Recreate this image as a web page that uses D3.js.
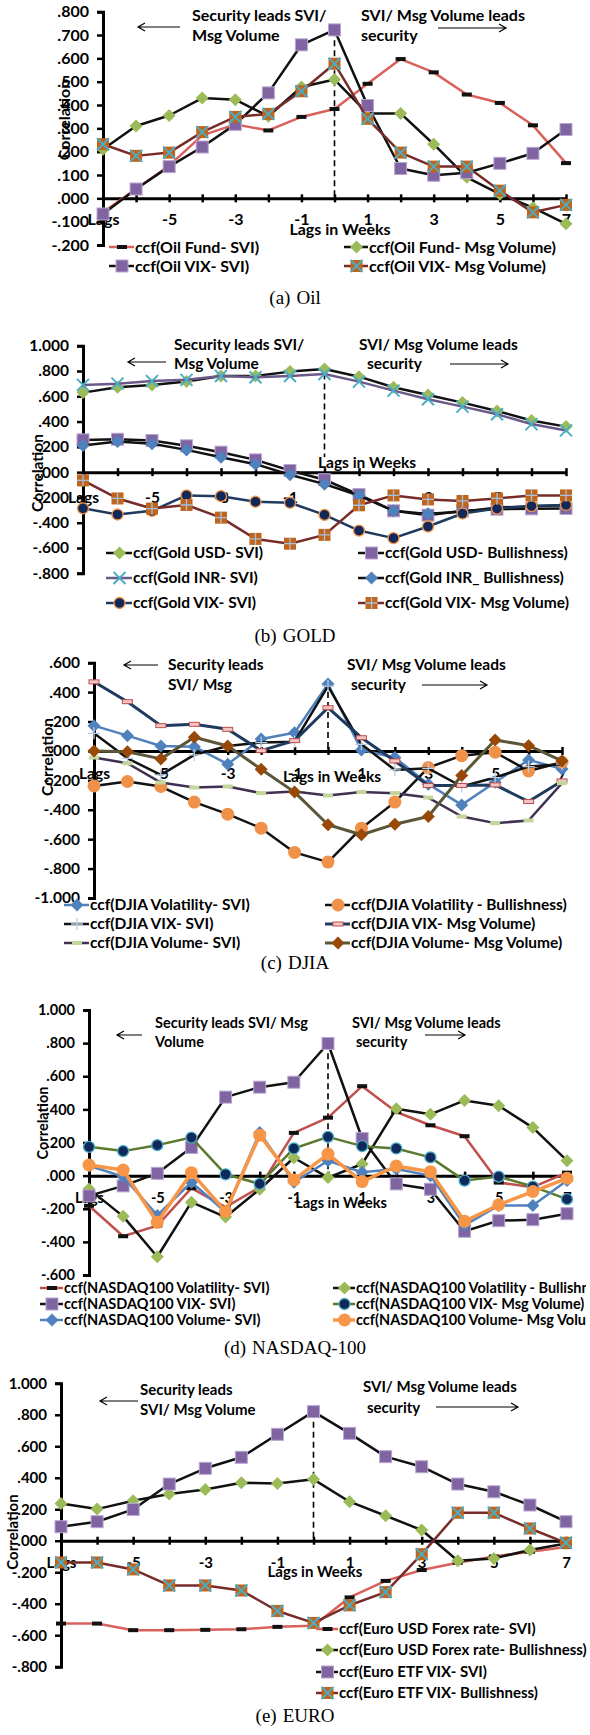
<!DOCTYPE html>
<html>
<head>
<meta charset="utf-8">
<script src="https://cdn.jsdelivr.net/npm/d3@7"></script>
<style>
body { margin: 0; background: #fff; }
svg text { font-family: Lato, "Open Sans", sans-serif; font-weight: bold; fill: #000; }
svg text.cap { font-family: "Liberation Serif", serif; font-weight: normal; }
</style>
</head>
<body>
<div id="chart"></div>
<script>
// lag categories and the labels Excel printed on the category axis
const lags = d3.range(-7, 8);
const lagLabels = ["Lags", "-5", "-3", "-1", "1", "3", "5", "7"];

// y tick values per panel
const ticksOil = [-0.2, -0.1, 0, 0.1, 0.2, 0.3, 0.4, 0.5, 0.6, 0.7, 0.8];
const ticksGold = [-0.8, -0.6, -0.4, -0.2, 0, 0.2, 0.4, 0.6, 0.8, 1.0];
const ticksDjia = [-1.0, -0.8, -0.6, -0.4, -0.2, 0, 0.2, 0.4, 0.6];
const ticksNasdaq = [-0.6, -0.4, -0.2, 0, 0.2, 0.4, 0.6, 0.8, 1.0];
const ticksEuro = [-0.8, -0.6, -0.4, -0.2, 0, 0.2, 0.4, 0.6, 0.8, 1.0];

// (a) Oil
const oilFundSvi = [-0.06, 0.04, 0.14, 0.27, 0.317, 0.291, 0.349, 0.383, 0.491, 0.597, 0.540, 0.445, 0.409, 0.313, 0.151];
const oilFundMsg = [0.21, 0.31, 0.355, 0.43, 0.423, 0.352, 0.477, 0.509, 0.364, 0.364, 0.232, 0.09, 0.018, -0.04, -0.109];
const oilVixSvi = [-0.067, 0.04, 0.136, 0.22, 0.317, 0.452, 0.658, 0.722, 0.398, 0.128, 0.099, 0.11, 0.15, 0.193, 0.295];
const oilVixMsg = [0.232, 0.182, 0.196, 0.284, 0.349, 0.362, 0.459, 0.577, 0.341, 0.196, 0.136, 0.136, 0.033, -0.06, -0.028];

// (b) Gold
const goldUsdSvi = [0.629, 0.671, 0.69, 0.716, 0.76, 0.76, 0.795, 0.816, 0.755, 0.671, 0.61, 0.55, 0.484, 0.408, 0.36];
const goldUsdBull = [0.255, 0.26, 0.25, 0.208, 0.158, 0.097, 0.013, -0.06, -0.177, -0.306, -0.34, -0.306, -0.293, -0.29, -0.287];
const goldInrSvi = [0.69, 0.70, 0.72, 0.73, 0.76, 0.75, 0.76, 0.776, 0.716, 0.645, 0.576, 0.518, 0.458, 0.38, 0.33];
const goldInrBull = [0.21, 0.242, 0.224, 0.176, 0.118, 0.063, -0.021, -0.095, -0.185, -0.306, -0.33, -0.314, -0.28, -0.27, -0.262];
const goldVixSvi = [-0.286, -0.335, -0.306, -0.184, -0.19, -0.234, -0.242, -0.338, -0.462, -0.522, -0.43, -0.327, -0.288, -0.268, -0.26];
const goldVixMsg = [-0.065, -0.208, -0.288, -0.26, -0.36, -0.528, -0.566, -0.496, -0.262, -0.184, -0.216, -0.228, -0.208, -0.184, -0.184];

// (c) DJIA
const djiaVolSvi = [0.172, 0.104, 0.034, 0.029, -0.09, 0.081, 0.124, 0.455, 0.007, -0.045, -0.226, -0.367, -0.213, -0.061, -0.122];
const djiaVolBull = [-0.238, -0.208, -0.242, -0.348, -0.43, -0.525, -0.69, -0.756, -0.525, -0.348, -0.113, -0.032, -0.009, -0.136, -0.077];
const djiaVixSvi = [0.12, -0.05, -0.163, -0.027, 0.034, 0.057, 0.063, 0.441, 0.045, -0.129, -0.118, -0.242, -0.181, -0.106, -0.09];
const djiaVixMsg = [0.47, 0.335, 0.172, 0.181, 0.147, 0.002, 0.07, 0.294, 0.09, -0.068, -0.235, -0.235, -0.231, -0.344, -0.204];
const djiaVolumeSvi = [-0.045, -0.084, -0.215, -0.249, -0.242, -0.287, -0.276, -0.303, -0.28, -0.287, -0.317, -0.446, -0.491, -0.473, -0.219];
const djiaVolumeMsg = [0.0, -0.005, -0.054, 0.093, 0.034, -0.124, -0.28, -0.502, -0.57, -0.498, -0.446, -0.167, 0.075, 0.036, -0.068];

// (d) NASDAQ-100
const nasVolSvi = [-0.182, -0.366, -0.302, -0.076, -0.19, -0.07, 0.258, 0.35, 0.54, 0.384, 0.304, 0.238, -0.042, -0.07, 0.018];
const nasVolBull = [-0.08, -0.246, -0.49, -0.16, -0.25, -0.082, 0.108, -0.012, 0.07, 0.404, 0.37, 0.454, 0.422, 0.29, 0.09];
const nasVixSvi = [-0.122, -0.062, 0.014, 0.17, 0.474, 0.534, 0.564, 0.798, 0.224, -0.05, -0.082, -0.336, -0.272, -0.266, -0.23];
const nasVixMsg = [0.174, 0.148, 0.184, 0.23, 0.008, -0.05, 0.164, 0.234, 0.178, 0.164, 0.11, -0.03, -0.006, -0.066, -0.142];
const nasVolumeSvi = [0.06, -0.006, -0.24, -0.04, -0.22, 0.26, -0.04, 0.09, 0.02, 0.04, 0.0, -0.3, -0.18, -0.18, -0.03];
const nasVolumeMsg = [0.064, 0.034, -0.282, 0.018, -0.216, 0.244, -0.026, 0.13, -0.036, 0.058, 0.024, -0.276, -0.176, -0.096, -0.016];

// (e) Euro
const euroUsdSvi = [-0.526, -0.526, -0.568, -0.568, -0.566, -0.562, -0.547, -0.54, -0.36, -0.255, -0.186, -0.14, -0.10, -0.07, -0.04];
const euroUsdBull = [0.237, 0.201, 0.254, 0.297, 0.326, 0.369, 0.364, 0.39, 0.248, 0.159, 0.068, -0.127, -0.112, -0.059, -0.017];
const euroVixSvi = [0.089, 0.121, 0.199, 0.36, 0.46, 0.53, 0.676, 0.82, 0.682, 0.534, 0.47, 0.36, 0.311, 0.227, 0.121];
const euroVixBull = [-0.138, -0.138, -0.182, -0.284, -0.284, -0.316, -0.446, -0.522, -0.41, -0.326, -0.085, 0.178, 0.178, 0.078, -0.013];

// series styles (Excel 2007 palette)
const S = {
  redDash:   { line: '#d9605b', w: 2.5, m: { type: 'dash', fill: '#111' } },
  redDash2:  { line: '#c0504d', w: 2.5, m: { type: 'dash', fill: '#111' } },
  greenDia:  { line: '#111', w: 2.5, m: { type: 'diamond', fill: '#9bbb59' } },
  purpleSq:  { line: '#111', w: 2.5, m: { type: 'square', fill: '#8064a2', stroke: '#b7a6cf' } },
  xSq:       { line: '#772c2a', w: 2.5, m: { type: 'xsq', fill: '#c0651b', x: '#4bacc6' } },
  plusSq:    { line: '#772c2a', w: 2.5, m: { type: 'psq', fill: '#c0651b', x: '#a5bfe0' } },
  cyanX:     { line: '#6a5a8a', w: 2.5, m: { type: 'x', x: '#4bacc6' } },
  blueDiaBk: { line: '#111', w: 2.5, m: { type: 'diamond', fill: '#4f81bd' } },
  navyOr:    { line: '#1f3a5f', w: 2.5, m: { type: 'circle', fill: '#10285a', stroke: '#f79646' } },
  blueDia:   { line: '#4f81bd', w: 2.5, m: { type: 'diamond', fill: '#4f81bd' } },
  orangeBk:  { line: '#111', w: 2.5, m: { type: 'circle', fill: '#f0914a', r: 6.5 } },
  plusBk:    { line: '#111', w: 2.5, m: { type: 'plus', x: '#b9cde5' } },
  navyPink:  { line: '#1f3a5f', w: 3, m: { type: 'dash', fill: '#f2c4c4', stroke: '#c0504d' } },
  purpGreen: { line: '#403152', w: 2.5, m: { type: 'dash', fill: '#c3d69b' } },
  olivBrown: { line: '#5b5637', w: 3, m: { type: 'diamond', fill: '#984807' } },
  oliveNavy: { line: '#5b7a2e', w: 2.5, m: { type: 'circle', fill: '#10285a', stroke: '#4bacc6' } },
  orange:    { line: '#f79646', w: 3.5, m: { type: 'circle', fill: '#f79646', r: 6.5 } }
};

const panels = [
  {
    fs: 16, xr: [103, 566], yd: [-0.2, 0.8], yr: [245, 11.7], ticks: ticksOil,
    lblOff: 21, xTitle: [340, 229], yTitle: [64, 120], dash: [0.72, 0],
    notes: [[192, 15, 'Security leads SVI/'], [192, 35, 'Msg Volume'], [361, 15, 'SVI/ Msg Volume leads'], [361, 35, 'security']],
    arrows: [[180, 138, 27], [438, 506, 28]],
    cols: [[109, 135], [344, 369]], rows: [247, 266], cap: ['(a)', 'Oil', 297],
    series: [
      ['ccf(Oil Fund- SVI)', oilFundSvi, S.redDash],
      ['ccf(Oil Fund- Msg Volume)', oilFundMsg, S.greenDia],
      ['ccf(Oil VIX- SVI)', oilVixSvi, S.purpleSq],
      ['ccf(Oil VIX- Msg Volume)', oilVixMsg, S.xSq]
    ]
  },
  {
    fs: 15.5, xr: [83, 566], yd: [-0.8, 1.0], yr: [573.3, 345.7], ticks: ticksGold,
    lblOff: 25, xTitle: [367, 463], yTitle: [38, 473], dash: [0.78, 0.12],
    notes: [[174, 345, 'Security leads SVI/'], [174, 364, 'Msg Volume'], [359, 345, 'SVI/ Msg Volume leads'], [367, 364, 'security']],
    arrows: [[166, 128, 362], [450, 508, 364]],
    cols: [[106, 133], [358, 385]], rows: [553, 578, 603], cap: ['(b)', 'GOLD', 635],
    series: [
      ['ccf(Gold USD- SVI)', goldUsdSvi, S.greenDia],
      ['ccf(Gold USD- Bullishness)', goldUsdBull, S.purpleSq],
      ['ccf(Gold INR- SVI)', goldInrSvi, S.cyanX],
      ['ccf(Gold INR_ Bullishness)', goldInrBull, S.blueDiaBk],
      ['ccf(Gold VIX- SVI)', goldVixSvi, S.navyOr],
      ['ccf(Gold VIX- Msg Volume)', goldVixMsg, S.plusSq]
    ]
  },
  {
    fs: 15.5, xr: [94, 562], yd: [-1.0, 0.6], yr: [898, 662.7], ticks: ticksDjia,
    lblOff: 23, xTitle: [332, 777], yTitle: [48, 757], dash: [0.4, 0],
    notes: [[168, 665, 'Security leads'], [168, 685, 'SVI/ Msg'], [347, 665, 'SVI/ Msg Volume leads'], [351, 685, 'security']],
    arrows: [[158, 124, 665], [422, 487, 685]],
    cols: [[64, 90], [325, 351]], rows: [905, 924, 943], clip: 572, cap: ['(c)', 'DJIA', 962],
    series: [
      ['ccf(DJIA Volatility- SVI)', djiaVolSvi, S.blueDia],
      ['ccf(DJIA Volatility - Bullishness)', djiaVolBull, S.orangeBk],
      ['ccf(DJIA VIX- SVI)', djiaVixSvi, S.plusBk],
      ['ccf(DJIA VIX- Msg Volume)', djiaVixMsg, S.navyPink],
      ['ccf(DJIA Volume- SVI)', djiaVolumeSvi, S.purpGreen],
      ['ccf(DJIA Volume- Msg Volume)', djiaVolumeMsg, S.olivBrown]
    ]
  },
  {
    fs: 14.5, xr: [89, 567], yd: [-0.6, 1.0], yr: [1275, 1010], ticks: ticksNasdaq,
    lblOff: 22, xTitle: [341, 1203], yTitle: [43, 1123], dash: [0.8, 0],
    notes: [[155, 1023, 'Security leads SVI/ Msg'], [155, 1042, 'Volume'], [352, 1023, 'SVI/ Msg Volume leads'], [356, 1042, 'security']],
    arrows: [[142, 117, 1035], [425, 465, 1035]],
    cols: [[40, 64], [333, 356]], rows: [1288, 1304, 1320], clip: 586, cap: ['(d)', 'NASDAQ-100', 1347],
    series: [
      ['ccf(NASDAQ100 Volatility- SVI)', nasVolSvi, S.redDash2],
      ['ccf(NASDAQ100 Volatility - Bullishness)', nasVolBull, S.greenDia],
      ['ccf(NASDAQ100 VIX- SVI)', nasVixSvi, S.purpleSq],
      ['ccf(NASDAQ100 VIX- Msg Volume)', nasVixMsg, S.oliveNavy],
      ['ccf(NASDAQ100 Volume- SVI)', nasVolumeSvi, S.blueDia],
      ['ccf(NASDAQ100 Volume- Msg Volume)', nasVolumeMsg, S.orange]
    ]
  },
  {
    fs: 15, xr: [61, 566], yd: [-0.8, 1.0], yr: [1666.7, 1383.3], ticks: ticksEuro,
    lblOff: 22, xTitle: [315, 1572], yTitle: [13, 1532], dash: [0.82, 0],
    notes: [[140, 1390, 'Security leads'], [140, 1410, 'SVI/ Msg Volume'], [363, 1387, 'SVI/ Msg Volume leads'], [367, 1408, 'security']],
    arrows: [[138, 100, 1401], [436, 518, 1407]],
    cols: [[316, 339]], rows: [1629, 1650, 1672, 1693], cap: ['(e)', 'EURO', 1715],
    series: [
      ['ccf(Euro USD Forex rate- SVI)', euroUsdSvi, S.redDash],
      ['ccf(Euro USD Forex rate- Bullishness)', euroUsdBull, S.greenDia],
      ['ccf(Euro ETF VIX- SVI)', euroVixSvi, S.purpleSq],
      ['ccf(Euro ETF VIX- Bullishness)', euroVixBull, S.xSq]
    ]
  }
];

const W = 590, H = 1735;
const fmtY = v => (v < 0 ? '-' : '') + Math.abs(v).toFixed(3).replace(/^0/, '');

const svg = d3.select('#chart').append('svg').attr('width', W).attr('height', H);
svg.append('rect').attr('width', W).attr('height', H).attr('fill', '#fff');

function marker(g, m, cx, cy) {
  const k = g.append('g').attr('transform', `translate(${cx},${cy})`);
  const sq = () => k.append('rect').attr('x', -6).attr('y', -6).attr('width', 12).attr('height', 12)
    .attr('fill', m.fill).attr('stroke', m.stroke || 'none');
  if (m.type === 'diamond') {
    k.append('path').attr('d', 'M0,-6.5L6.5,0L0,6.5L-6.5,0Z').attr('fill', m.fill);
  } else if (m.type === 'square') {
    sq();
  } else if (m.type === 'circle') {
    k.append('circle').attr('r', m.r || 5.5).attr('fill', m.fill)
      .attr('stroke', m.stroke || 'none').attr('stroke-width', 1.3);
  } else if (m.type === 'dash') {
    k.append('rect').attr('x', -5).attr('y', -2).attr('width', 10).attr('height', 4)
      .attr('fill', m.fill).attr('stroke', m.stroke || 'none').attr('stroke-width', 1);
  } else if (m.type === 'x' || m.type === 'xsq') {
    if (m.type === 'xsq') sq();
    k.append('path').attr('d', 'M-6,-6L6,6M-6,6L6,-6').attr('stroke', m.x).attr('stroke-width', 2);
  } else if (m.type === 'plus' || m.type === 'psq') {
    if (m.type === 'psq') sq();
    k.append('path').attr('d', 'M-6,0H6M0,-6V6').attr('stroke', m.x).attr('stroke-width', 1.3);
  }
}

function arrow(g, x1, x2, y) {
  const d = x2 > x1 ? -1 : 1;
  g.append('path')
    .attr('d', `M${x1},${y}H${x2}M${x2 + d * 7},${y - 4}L${x2},${y}L${x2 + d * 7},${y + 4}`)
    .attr('fill', 'none').attr('stroke', '#000').attr('stroke-width', 1.2);
}

panels.forEach((p, pi) => {
  const x = d3.scalePoint().domain(lags).range(p.xr);
  const y = d3.scaleLinear().domain(p.yd).range(p.yr);
  const g = svg.append('g');
  const fs = p.fs;

  // y axis
  const ya = g.append('g').attr('transform', `translate(${p.xr[0]},0)`)
    .call(d3.axisLeft(y).tickValues(p.ticks).tickFormat(fmtY).tickSize(6).tickPadding(8));
  ya.select('.domain').attr('stroke', '#000').attr('stroke-width', 3);
  ya.selectAll('.tick line').attr('stroke', '#000').attr('stroke-width', 2.5);
  ya.selectAll('text').attr('font-size', fs).attr('font-family', null);

  // category axis through zero
  const xa = g.append('g').attr('transform', `translate(0,${y(0)})`)
    .call(d3.axisBottom(x).tickSizeInner(4).tickSizeOuter(0)
      .tickFormat(d => (d + 7) % 2 === 0 ? lagLabels[(d + 7) / 2] : ''));
  xa.select('.domain').attr('stroke', '#000').attr('stroke-width', 3);
  xa.selectAll('.tick line').attr('y1', -4).attr('y2', 4).attr('stroke', '#000').attr('stroke-width', 2.5);
  xa.selectAll('text').attr('font-size', fs).attr('font-family', null).attr('y', p.lblOff).attr('dy', '0.35em');

  g.append('text').attr('x', p.xTitle[0]).attr('y', p.xTitle[1]).attr('dy', '0.35em')
    .attr('text-anchor', 'middle').attr('font-size', fs).text('Lags in Weeks');
  g.append('text').attr('transform', `translate(${p.yTitle[0]},${p.yTitle[1]}) rotate(-90)`)
    .attr('dy', '0.35em').attr('text-anchor', 'middle').attr('font-size', fs).text('Correlation');

  // lag 0 marker
  g.append('line').attr('x1', x(0)).attr('x2', x(0)).attr('y1', y(p.dash[0])).attr('y2', y(p.dash[1]))
    .attr('stroke', '#000').attr('stroke-width', 1.6).attr('stroke-dasharray', '6,4');

  // annotations
  p.notes.forEach(n => g.append('text').attr('x', n[0]).attr('y', n[1]).attr('dy', '0.35em')
    .attr('font-size', fs).text(n[2]));
  p.arrows.forEach(a => arrow(g, a[0], a[1], a[2]));

  // series
  const line = d3.line().x((d, i) => x(lags[i])).y(d => y(d));
  p.series.forEach(s => {
    const st = s[2];
    g.append('path').attr('d', line(s[1])).attr('fill', 'none')
      .attr('stroke', st.line).attr('stroke-width', st.w).attr('stroke-linejoin', 'round');
    s[1].forEach((v, i) => marker(g, st.m, x(lags[i]), y(v)));
  });

  // legend
  const lg = g.append('g');
  if (p.clip) {
    svg.append('clipPath').attr('id', 'clip' + pi).append('rect')
      .attr('x', 0).attr('y', 0).attr('width', p.clip).attr('height', H);
    lg.attr('clip-path', `url(#clip${pi})`);
  }
  const nc = p.cols.length;
  p.series.forEach((s, i) => {
    const c = p.cols[i % nc], ry = p.rows[Math.floor(i / nc)];
    lg.append('line').attr('x1', c[0]).attr('x2', c[1] - 1).attr('y1', ry).attr('y2', ry)
      .attr('stroke', s[2].line).attr('stroke-width', s[2].w);
    marker(lg, s[2].m, (c[0] + c[1]) / 2, ry);
    lg.append('text').attr('x', c[1]).attr('y', ry).attr('dy', '0.35em').attr('font-size', fs).text(s[0]);
  });

  // caption
  const cap = g.append('text').attr('class', 'cap').attr('x', 295).attr('y', p.cap[2]).attr('dy', '0.35em')
    .attr('text-anchor', 'middle').attr('font-size', 19);
  cap.append('tspan').text(p.cap[0]);
  cap.append('tspan').attr('dx', 6).text(p.cap[1]);
});
</script>
</body>
</html>
